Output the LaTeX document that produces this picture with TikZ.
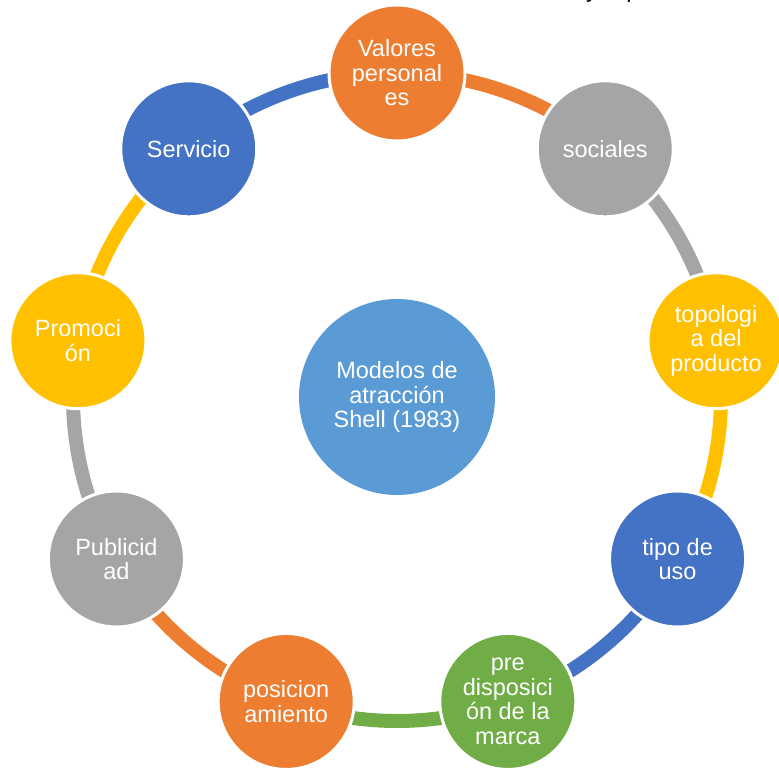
\documentclass[tikz,border=0pt]{standalone}
\usepackage{fontspec}
\setmainfont{Liberation Sans}
\definecolor{corange}{HTML}{ED7D31}
\definecolor{cgray}{HTML}{A5A5A5}
\definecolor{cyellow}{HTML}{FFC000}
\definecolor{cblue}{HTML}{4472C4}
\definecolor{cgreen}{HTML}{70AD47}
\definecolor{ccenter}{HTML}{5B9BD5}
\tikzset{
  ringnode/.style={circle, minimum size=136pt, inner sep=0pt, draw=white, line width=3pt,
    text=white, align=center, font=\fontsize{23.5pt}{24.5pt}\selectfont},
  hubnode/.style={circle, minimum size=196pt, inner sep=0pt, fill=ccenter,
    text=white, align=center, font=\fontsize{23.5pt}{24.5pt}\selectfont},
  ringarc/.style={line width=14pt}
}
\begin{document}
\begin{tikzpicture}
\useasboundingbox (0,0) rectangle (779pt,773pt);
\coordinate (C) at (397pt,376pt);
% hub
\node[hubnode] (hub) at (C) {Modelos de\\atracción\\Shell (1983)};
% positions
\path (C) +(90:324pt) coordinate (p0)
      (C) +(50:324pt) coordinate (p1)
      (C) +(10:324pt) coordinate (p2)
      (C) +(-30:324pt) coordinate (p3)
      (C) +(-70:324pt) coordinate (p4)
      (C) +(-110:324pt) coordinate (p5)
      (C) +(-150:324pt) coordinate (p6)
      (C) +(-190:324pt) coordinate (p7)
      (C) +(-230:324pt) coordinate (p8);
% arcs
\draw[ringarc, corange] (p0) arc[start angle=90, end angle=50, radius=324pt];
\draw[ringarc, cgray]   (p1) arc[start angle=50, end angle=10, radius=324pt];
\draw[ringarc, cyellow] (p2) arc[start angle=10, end angle=-30, radius=324pt];
\draw[ringarc, cblue]   (p3) arc[start angle=-30, end angle=-70, radius=324pt];
\draw[ringarc, cgreen]  (p4) arc[start angle=-70, end angle=-110, radius=324pt];
\draw[ringarc, corange] (p5) arc[start angle=-110, end angle=-150, radius=324pt];
\draw[ringarc, cgray]   (p6) arc[start angle=-150, end angle=-190, radius=324pt];
\draw[ringarc, cyellow] (p7) arc[start angle=-190, end angle=-230, radius=324pt];
\draw[ringarc, cblue]   (p8) arc[start angle=-230, end angle=-270, radius=324pt];
% nodes
\node[ringnode, fill=corange] (n0) at (p0) {Valores\\personal\\es};
\node[ringnode, fill=cgray]   (n1) at (p1) {sociales};
\node[ringnode, fill=cyellow] (n2) at (p2) {topologi\\a del\\producto};
\node[ringnode, fill=cblue]   (n3) at (p3) {tipo de\\uso};
\node[ringnode, fill=cgreen]  (n4) at (p4) {pre\\disposici\\ón de la\\marca};
\node[ringnode, fill=corange] (n5) at (p5) {posicion\\amiento};
\node[ringnode, fill=cgray]   (n6) at (p6) {Publicid\\ad};
\node[ringnode, fill=cyellow] (n7) at (p7) {Promoci\\ón};
\node[ringnode, fill=cblue]   (n8) at (p8) {Servicio};
% cut-off text at the top edge
\node[anchor=base west, inner sep=0pt, font=\fontsize{23.5pt}{24.5pt}\selectfont] (top) at (586pt,775pt) {y\hspace{28.5pt}p};
\end{tikzpicture}
\end{document}
